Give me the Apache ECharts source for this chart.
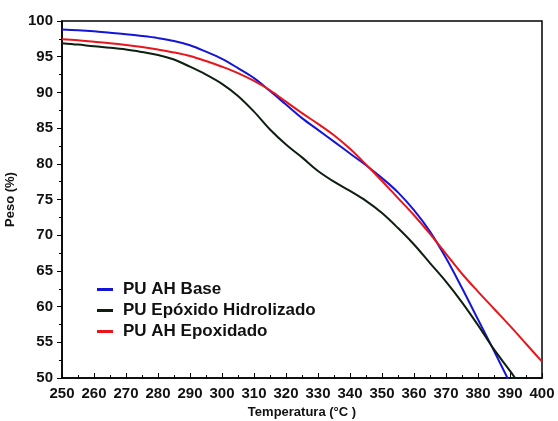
<!DOCTYPE html>
<html>
<head>
<meta charset="utf-8">
<script src="https://cdn.jsdelivr.net/npm/echarts@6/dist/echarts.min.js"></script>
<style>
  html, body { margin: 0; padding: 0; background: #fff; }
  #chart { width: 558px; height: 421px; }
</style>
</head>
<body>
<div id="chart"></div>
<script>
// Temperature grid (°C) shared by all curves
const temperatures = [250, 255, 260, 265, 270, 275, 280, 285, 290, 295, 300, 305, 310, 315, 320,
                      325, 330, 335, 340, 345, 350, 355, 360, 365, 370, 375, 380, 385, 390, 395, 400];

// Residual mass (%) for each sample
const puAhBase = [98.8, 98.7, 98.55, 98.35, 98.15, 97.9, 97.6, 97.2, 96.6, 95.7, 94.7, 93.4, 92.0, 90.2, 88.3,
                  86.4, 84.75, 83.1, 81.45, 79.8, 78.0, 76.0, 73.5, 70.5, 66.8, 62.6, 58.2, 53.8, 49.3];
const puEpoxidoHidrolizado = [96.9, 96.7, 96.45, 96.25, 96.0, 95.65, 95.25, 94.6, 93.6, 92.5, 91.2, 89.5, 87.3, 84.8, 82.7,
                              80.9, 79.0, 77.5, 76.2, 74.8, 73.1, 71.0, 68.7, 66.1, 63.5, 60.6, 57.4, 54.0, 51.0, 47.8];
const puAhEpoxidado = [97.45, 97.3, 97.1, 96.9, 96.65, 96.35, 96.0, 95.6, 95.1, 94.4, 93.6, 92.7, 91.6, 90.3, 88.7,
                       87.1, 85.6, 84.0, 82.1, 79.9, 77.6, 75.2, 72.8, 70.2, 67.4, 64.6, 62.1, 59.7, 57.3, 54.8, 52.3];

const seriesNames = ['PU AH Base', 'PU Epóxido Hidrolizado', 'PU AH Epoxidado'];
const seriesColors = ['#1515d8', '#0e1f10', '#e8161c'];
const seriesValues = [puAhBase, puEpoxidoHidrolizado, puAhEpoxidado];

const FONT = 'Arial, "Liberation Sans", sans-serif';

function pairs(values) {
  return values.map((v, i) => [temperatures[i], v]);
}

const chart = echarts.init(document.getElementById('chart'), null, { renderer: 'canvas' });

chart.setOption({
  animation: false,
  backgroundColor: '#ffffff',
  grid: {
    left: 62, right: 16, top: 21, bottom: 43,
    containLabel: false, outerBoundsMode: 'none',
    show: true, borderColor: '#000', borderWidth: 1.5, backgroundColor: 'transparent'
  },
  legend: {
    orient: 'vertical',
    left: 92, top: 276,
    itemWidth: 16, itemHeight: 3, itemGap: 4,
    icon: 'rect',
    textStyle: {
      fontFamily: FONT, fontWeight: 'bold', fontSize: 17, color: '#111',
      lineHeight: 17, padding: [0, 0, 0, 5]
    },
    data: seriesNames
  },
  xAxis: {
    type: 'value',
    min: 250, max: 400, interval: 10,
    name: 'Temperatura (°C )',
    nameLocation: 'middle', nameGap: 27,
    nameTextStyle: { fontFamily: FONT, fontWeight: 'bold', fontSize: 13, color: '#111' },
    axisLine: { show: true, lineStyle: { color: '#000', width: 1.5 } },
    axisTick: { show: true, inside: true, length: 5, lineStyle: { color: '#000', width: 1 } },
    minorTick: { show: true, splitNumber: 2, length: 3, lineStyle: { color: '#000', width: 1 } },
    axisLabel: { fontFamily: FONT, fontWeight: 'bold', fontSize: 15, color: '#111', margin: 8 },
    splitLine: { show: false }
  },
  yAxis: {
    type: 'value',
    min: 50, max: 100, interval: 5,
    name: 'Peso (%)',
    nameLocation: 'middle', nameGap: 32, nameRotate: 90,
    nameTextStyle: { fontFamily: FONT, fontWeight: 'bold', fontSize: 13, color: '#111' },
    axisLine: { show: true, lineStyle: { color: '#000', width: 1.5 } },
    axisTick: { show: true, inside: false, length: 5, lineStyle: { color: '#000', width: 1 } },
    minorTick: { show: true, splitNumber: 2, length: 3, lineStyle: { color: '#000', width: 1 } },
    axisLabel: { fontFamily: FONT, fontWeight: 'bold', fontSize: 15, color: '#111', margin: 9 },
    splitLine: { show: false }
  },
  series: seriesNames.map((name, k) => ({
    name: name,
    type: 'line',
    data: pairs(seriesValues[k]),
    smooth: 0.35,
    showSymbol: false,
    clip: true,
    color: seriesColors[k],
    lineStyle: { width: 2, color: seriesColors[k] }
  }))
});
</script>
</body>
</html>
